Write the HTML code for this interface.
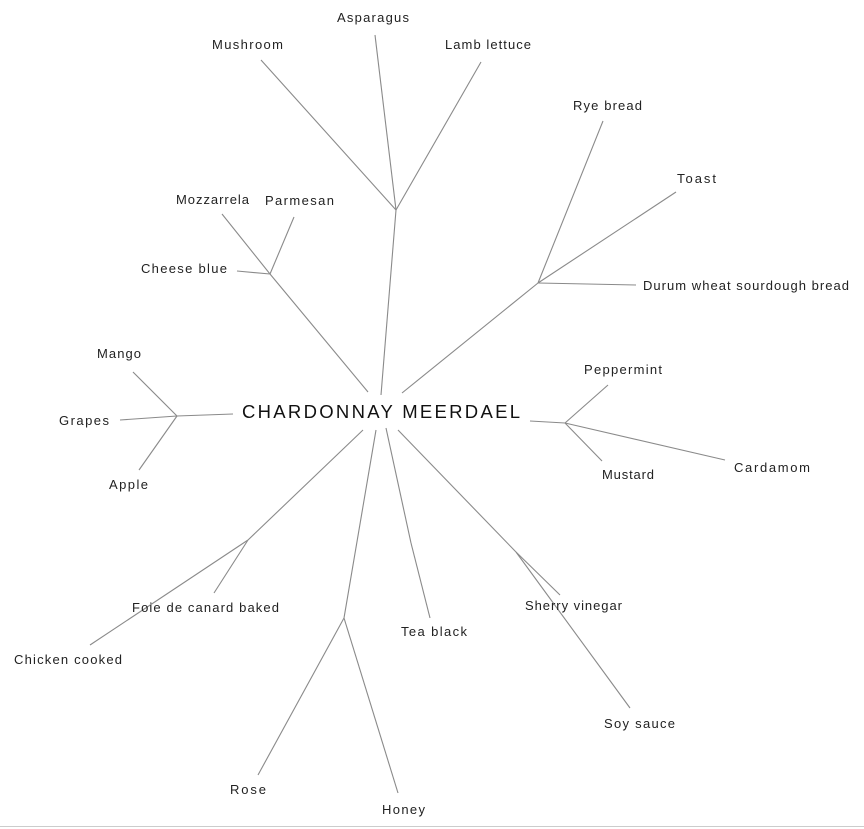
<!DOCTYPE html>
<html><head><meta charset="utf-8"><style>
html,body{margin:0;padding:0;background:#fff;width:864px;height:829px;overflow:hidden}
svg text{font-family:"Liberation Sans",Arial,sans-serif;font-size:13px;fill:#222}
</style></head><body>
<svg width="864" height="829" xmlns="http://www.w3.org/2000/svg">
<g stroke="#8a8a8a" stroke-width="1.1" fill="none">
<line x1="381" y1="395" x2="396" y2="210"/>
<line x1="396" y1="210" x2="375" y2="35"/>
<line x1="396" y1="210" x2="481" y2="62"/>
<line x1="396" y1="210" x2="261" y2="60"/>
<line x1="368" y1="392" x2="270" y2="274"/>
<line x1="270" y1="274" x2="222" y2="214"/>
<line x1="270" y1="274" x2="294" y2="217"/>
<line x1="270" y1="274" x2="237" y2="271"/>
<line x1="402" y1="393" x2="538" y2="283"/>
<line x1="538" y1="283" x2="603" y2="121"/>
<line x1="538" y1="283" x2="676" y2="192"/>
<line x1="538" y1="283" x2="636" y2="285"/>
<line x1="233" y1="414" x2="177" y2="416"/>
<line x1="177" y1="416" x2="133" y2="372"/>
<line x1="177" y1="416" x2="120" y2="420"/>
<line x1="177" y1="416" x2="139" y2="470"/>
<line x1="530" y1="421" x2="565" y2="423"/>
<line x1="565" y1="423" x2="608" y2="385"/>
<line x1="565" y1="423" x2="725" y2="460"/>
<line x1="565" y1="423" x2="602" y2="461"/>
<line x1="363" y1="430" x2="248" y2="540"/>
<line x1="248" y1="540" x2="90" y2="645"/>
<line x1="248" y1="540" x2="214" y2="593"/>
<line x1="376" y1="430" x2="344" y2="618"/>
<line x1="344" y1="618" x2="258" y2="775"/>
<line x1="344" y1="618" x2="398" y2="793"/>
<line x1="386" y1="428" x2="411" y2="543"/>
<line x1="411" y1="543" x2="430" y2="618"/>
<line x1="398" y1="430" x2="516" y2="552"/>
<line x1="516" y1="552" x2="560" y2="595"/>
<line x1="516" y1="552" x2="630" y2="708"/>
<line x1="0" y1="826.5" x2="864" y2="826.5" stroke="#ccc"/>
</g>
<text x="242" y="418" textLength="278" lengthAdjust="spacing" style="font-size:18.5px;fill:#111">CHARDONNAY MEERDAEL</text>
<text x="337" y="22" textLength="72" lengthAdjust="spacing">Asparagus</text>
<text x="212" y="49" textLength="71" lengthAdjust="spacing">Mushroom</text>
<text x="445" y="49" textLength="86" lengthAdjust="spacing">Lamb lettuce</text>
<text x="573" y="110" textLength="69" lengthAdjust="spacing">Rye bread</text>
<text x="677" y="183" textLength="39" lengthAdjust="spacing">Toast</text>
<text x="643" y="290" textLength="206" lengthAdjust="spacing">Durum wheat sourdough bread</text>
<text x="176" y="204" textLength="73" lengthAdjust="spacing">Mozzarrela</text>
<text x="265" y="205" textLength="69" lengthAdjust="spacing">Parmesan</text>
<text x="141" y="273" textLength="86" lengthAdjust="spacing">Cheese blue</text>
<text x="97" y="358" textLength="44" lengthAdjust="spacing">Mango</text>
<text x="59" y="425" textLength="50" lengthAdjust="spacing">Grapes</text>
<text x="109" y="489" textLength="39" lengthAdjust="spacing">Apple</text>
<text x="584" y="374" textLength="78" lengthAdjust="spacing">Peppermint</text>
<text x="602" y="479" textLength="52" lengthAdjust="spacing">Mustard</text>
<text x="734" y="472" textLength="76" lengthAdjust="spacing">Cardamom</text>
<text x="132" y="612" textLength="147" lengthAdjust="spacing">Foie de canard baked</text>
<text x="14" y="664" textLength="108" lengthAdjust="spacing">Chicken cooked</text>
<text x="401" y="636" textLength="66" lengthAdjust="spacing">Tea black</text>
<text x="525" y="610" textLength="97" lengthAdjust="spacing">Sherry vinegar</text>
<text x="604" y="728" textLength="71" lengthAdjust="spacing">Soy sauce</text>
<text x="230" y="794" textLength="36" lengthAdjust="spacing">Rose</text>
<text x="382" y="814" textLength="43" lengthAdjust="spacing">Honey</text>
</svg>
</body></html>
